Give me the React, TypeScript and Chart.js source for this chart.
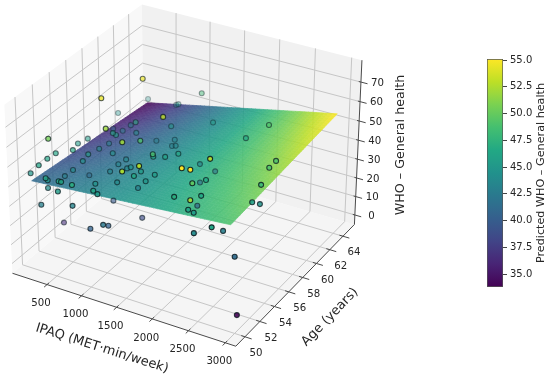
import React, { useEffect, useRef } from "react";
import { Chart, registerables } from "chart.js";
Chart.register(...registerables);

// ---------- data ----------
const ipaq = [844,672,245,735,669,106,1430,666,364,953,880,62,299,512,546,581,280,210,170,312,145,1226,1138,323,340,755,994,1083,997,427,598,1414,1253,1457,1356,746,130,127,15,381,701,874,973,1740,1611,1210,342,706,1291,1395,2410,2511,302,231,373,288,547,607,811,808,946,1332,2240,314,1165,1531,1596,1101,1362,2307,1988,2373,1646,2089,2799,2806,2847,358,749,594,1027,1037,793,269,1203,1100,948,1220,2004,2596,2227,2249,1801,2368,2223,2732,2768,2659,2555,2827,2937];
const age = [58.2,54.5,64.2,63.9,64.2,61.4,55.5,58.8,60.8,60.9,53.2,61.1,60.3,57.2,57.3,59.6,51.3,56.6,55.7,53.9,53.2,52.2,55.2,58.3,56.9,60.7,61.0,60.3,60.6,54.8,56.4,54.3,55.8,57.2,56.4,56.8,52.3,51.3,51.2,54.5,56.2,55.8,55.4,49.7,48.8,54.6,53.6,55.1,53.0,54.7,48.8,48.9,55.9,53.5,50.1,51.0,50.2,50.0,49.6,52.4,53.9,54.1,51.7,50.8,54.6,59.4,58.8,63.7,62.8,61.3,61.3,52.7,60.4,54.9,57.3,56.3,54.8,49.6,50.1,49.7,50.3,50.7,54.7,52.9,49.9,51.4,50.5,54.6,51.6,48.1,51.3,51.8,56.5,50.7,53.0,54.8,55.5,50.2,52.7,51.6,50.9];
const who = [73,73,38,41,39,38,68,47,36,41,64,30,34,45,44,38,59,41,41,45,44,64,54,34,36,32,34,34,32,41,38,53,45,44,44,35,44,44,39,38,34,35,38,66,65,41,36,34,45,41,75,75,25,32,44,39,44,45,47,38,35,39,56,36,32,32,25,51,41,54,44,66,26,45,54,54,51,32,34,41,44,41,21,10,30,23,23,17,47,64,44,41,23,36,45,41,38,44,32,26,0];

const surfaceIpaq = [180, 2930];
const surfaceAge = [50, 64.7];
// rows follow surfaceAge, columns follow surfaceIpaq
const surfaceRow0 = [41, 49];
const surfaceRow1 = [33.8, 55.1];

const xTicks = [500, 1000, 1500, 2000, 2500, 3000];
const yTicks = [50, 52, 54, 56, 58, 60, 62, 64];
const zTicks = [0, 10, 20, 30, 40, 50, 60, 70];
const colorbarTicks = [35, 37.5, 40, 42.5, 45, 47.5, 50, 52.5, 55];

const xLim = [-10, 3140];
const yLim = [48.79, 65.78];
const zLim = [-5.19, 81.06];
const colorLim = [33.8, 55.1];
const whoLim = [0, 75];

// ---------- matplotlib's 3D camera, elev 30, azim -60 ----------
const BX = 1.19, BY = 1.19, BZ = 0.893, SCALE = 2150, CX = 186.6, CY = 167.1;
function view(x: number, y: number, z: number) {
  const a = ((x - xLim[0]) / (xLim[1] - xLim[0]) - 0.5) * BX;
  const b = ((y - yLim[0]) / (yLim[1] - yLim[0]) - 0.5) * BY;
  const c = ((z - zLim[0]) / (zLim[1] - zLim[0]) - 0.5) * BZ;
  const U = 0.866 * a + 0.5 * b;
  const V = -0.25 * a + 0.433 * b + 0.866 * c;
  const W = 0.433 * a - 0.75 * b + 0.5 * c;
  const D = 10 - W;
  return { x: U / D, y: V / D, d: D };
}
const gap = { x: NaN, y: NaN };
function seg(out: any[], p: number[], q: number[]) {
  out.push(view(p[0], p[1], p[2]), view(q[0], q[1], q[2]), gap);
}

const VIRIDIS = ["#440154","#482475","#414487","#355f8d","#2a788e","#21918c","#22a884","#44bf70","#7ad151","#bddf26","#fde725"].map((h) => [parseInt(h.slice(1,3),16),parseInt(h.slice(3,5),16),parseInt(h.slice(5,7),16)]);
function viridis(t: number, alpha = 1) {
  const v = Math.min(1, Math.max(0, t)) * 10;
  const i = Math.min(9, Math.floor(v)), f = v - i;
  const c = [0,1,2].map((k) => Math.round(VIRIDIS[i][k] + (VIRIDIS[i + 1][k] - VIRIDIS[i][k]) * f));
  return `rgba(${c[0]},${c[1]},${c[2]},${alpha})`;
}

const FONT = "'DejaVu Sans'";
const TEXT = "#262626";

const gridPts: any[] = [];
for (const t of xTicks) { seg(gridPts, [t, yLim[0], zLim[0]], [t, yLim[1], zLim[0]]); seg(gridPts, [t, yLim[1], zLim[0]], [t, yLim[1], zLim[1]]); }
for (const t of yTicks) { seg(gridPts, [xLim[0], t, zLim[0]], [xLim[1], t, zLim[0]]); seg(gridPts, [xLim[0], t, zLim[0]], [xLim[0], t, zLim[1]]); }
for (const t of zTicks) { seg(gridPts, [xLim[0], yLim[0], t], [xLim[0], yLim[1], t]); seg(gridPts, [xLim[0], yLim[1], t], [xLim[1], yLim[1], t]); }

const axisPts: any[] = [];
seg(axisPts, [xLim[0], yLim[0], zLim[0]], [xLim[1], yLim[0], zLim[0]]);
seg(axisPts, [xLim[1], yLim[0], zLim[0]], [xLim[1], yLim[1], zLim[0]]);
seg(axisPts, [xLim[1], yLim[1], zLim[0]], [xLim[1], yLim[1], zLim[1]]);
for (const t of xTicks) seg(axisPts, [t, yLim[0] - 0.35, zLim[0]], [t, yLim[0] + 0.25, zLim[0]]);
for (const t of yTicks) seg(axisPts, [xLim[1] - 50, t, zLim[0]], [xLim[1] + 90, t, zLim[0]]);
for (const t of zTicks) seg(axisPts, [xLim[1] - 30, yLim[1], t], [xLim[1] + 90, yLim[1], t]);

const pts = ipaq.map((x, i) => ({ ...view(x, age[i], who[i]), v: who[i] })).sort((p, q) => q.d - p.d);
const dMax = pts[0].d, dMin = pts[pts.length - 1].d;
const shade = (d: number) => Math.min(1, 1.15 - 0.85 * (d - dMin) / (dMax - dMin));

function App3D(canvas: HTMLCanvasElement) {
  const sx = (c: Chart, v: number) => c.scales.x.getPixelForValue(v);
  const sy = (c: Chart, v: number) => c.scales.y.getPixelForValue(v);
  const poly = (c: Chart, corners: number[][], fill: string) => {
    const g = c.ctx; g.beginPath();
    corners.forEach((p, i) => { const v = view(p[0], p[1], p[2]); i ? g.lineTo(sx(c, v.x), sy(c, v.y)) : g.moveTo(sx(c, v.x), sy(c, v.y)); });
    g.closePath(); g.fillStyle = fill; g.fill();
  };
  const drawSurface = (c: Chart) => {
    const N = 48;
    const off = document.createElement("canvas"); off.width = c.width; off.height = c.height;
    const o = off.getContext("2d")!;
    const P = (s: number, t: number) => {
      const z = (1 - t) * ((1 - s) * surfaceRow0[0] + s * surfaceRow0[1]) + t * ((1 - s) * surfaceRow1[0] + s * surfaceRow1[1]);
      const x = surfaceIpaq[0] + s * (surfaceIpaq[1] - surfaceIpaq[0]);
      const y = surfaceAge[0] + t * (surfaceAge[1] - surfaceAge[0]);
      const v = view(x, y, z);
      return { px: sx(c, v.x), py: sy(c, v.y), z };
    };
    for (let i = 0; i < N; i++) for (let j = 0; j < N; j++) {
      const a = P(i / N, j / N), b = P((i + 1) / N, j / N), d = P((i + 1) / N, (j + 1) / N), e = P(i / N, (j + 1) / N);
      const col = viridis(((a.z + d.z) / 2 - colorLim[0]) / (colorLim[1] - colorLim[0]));
      o.beginPath(); o.moveTo(a.px, a.py); o.lineTo(b.px, b.py); o.lineTo(d.px, d.py); o.lineTo(e.px, e.py); o.closePath();
      o.fillStyle = col; o.strokeStyle = col; o.lineWidth = 0.7; o.fill(); o.stroke();
    }
    const g = c.ctx; g.save(); g.globalAlpha = 0.88; g.drawImage(off, 0, 0, c.width, c.height); g.restore();
  };
  const label = (g: CanvasRenderingContext2D, s: string, x: number, y: number, size: number, rot = 0) => {
    g.save(); g.translate(x, y); g.rotate(rot * Math.PI / 180);
    g.font = `${size}px ${FONT}`; g.fillStyle = TEXT; g.textAlign = "center"; g.textBaseline = "middle";
    g.fillText(s, 0, 0); g.restore();
  };
  return new Chart(canvas, {
    type: "scatter",
    data: { datasets: [
      { label: "pts", data: pts, order: 1, showLine: false, pointRadius: 2.5, pointBorderWidth: 1.1,
        pointBackgroundColor: pts.map((p) => viridis((p.v - whoLim[0]) / (whoLim[1] - whoLim[0]), shade(p.d))),
        pointBorderColor: pts.map((p) => `rgba(10,25,30,${shade(p.d) * 0.9})`) } as any,
      { label: "grid", data: gridPts, order: 3, showLine: true, pointRadius: 0, borderColor: "#c6c6c6", borderWidth: 1, spanGaps: false } as any,
      { label: "axes", data: axisPts, order: 2, showLine: true, pointRadius: 0, borderColor: "#4a4a4a", borderWidth: 1, spanGaps: false } as any,
    ] },
    options: {
      animation: false, responsive: false, clip: false as any,
      layout: { padding: 0, autoPadding: false },
      plugins: { legend: { display: false }, tooltip: { enabled: false } },
      scales: {
        x: { display: false, type: "linear", min: -CX / SCALE, max: (440 - CX) / SCALE },
        y: { display: false, type: "linear", min: (CY - 380) / SCALE, max: CY / SCALE },
      },
    },
    plugins: [{
      id: "box3d",
      beforeDatasetsDraw(c: Chart) {
        const [x0, x1] = xLim, [y0, y1] = yLim, [z0, z1] = zLim;
        poly(c, [[x0,y0,z0],[x1,y0,z0],[x1,y1,z0],[x0,y1,z0]], "#f5f5f5");
        poly(c, [[x0,y0,z0],[x0,y1,z0],[x0,y1,z1],[x0,y0,z1]], "#f8f8f8");
        poly(c, [[x0,y1,z0],[x1,y1,z0],[x1,y1,z1],[x0,y1,z1]], "#f1f1f1");
      },
      beforeDatasetDraw(c: Chart, args: any) {
        if (args.index === 0) drawSurface(c);
      },
      afterDatasetsDraw(c: Chart) {
        const g = c.ctx;
        for (const t of xTicks) { const v = view(t, yLim[0], zLim[0]); label(g, String(t), sx(c, v.x) - 6, sy(c, v.y) + 19, 10.2); }
        for (const t of yTicks) { const v = view(xLim[1], t, zLim[0]); label(g, String(t), sx(c, v.x) + 11, sy(c, v.y) + 16.5, 10.2); }
        for (const t of zTicks) { const v = view(xLim[1], yLim[1], t); label(g, String(t), sx(c, v.x) + 16.5, sy(c, v.y) + 1, 10.2); }
        label(g, "IPAQ (MET·min/week)", 102, 348.5, 13, 17.5);
        label(g, "Age (years)", 330, 317, 13, -46);
        label(g, "WHO – General health", 401, 145, 12.7, -90);
      },
    }],
  });
}

function AppBar(canvas: HTMLCanvasElement) {
  return new Chart(canvas, {
    type: "bar",
    data: { labels: ["Predicted WHO – General health"], datasets: [{
      data: [colorLim as any],
      barPercentage: 1, categoryPercentage: 1, borderWidth: 1, borderColor: "#555", borderSkipped: false,
      backgroundColor: (ctx: any) => {
        const ca = ctx.chart.chartArea; if (!ca) return "#000";
        const gr = ctx.chart.ctx.createLinearGradient(0, ca.bottom, 0, ca.top);
        for (let i = 0; i <= 20; i++) gr.addColorStop(i / 20, viridis(i / 20));
        return gr;
      },
    }] },
    options: {
      animation: false, responsive: false,
      layout: { padding: { left: 47, top: 59, bottom: 93, right: 0 }, autoPadding: false },
      plugins: { legend: { display: false }, tooltip: { enabled: false } },
      scales: {
        x: { display: false },
        y: {
          position: "right", min: colorLim[0], max: colorLim[1],
          afterBuildTicks: (s: any) => { s.ticks = colorbarTicks.map((value) => ({ value })); },
          afterFit: (s: any) => { s.width = 47; },
          grid: { drawOnChartArea: false, drawTicks: true, tickLength: 4, color: "#444" },
          border: { display: false },
          ticks: { padding: 3, color: TEXT, font: { family: "DejaVu Sans", size: 10 }, callback: (v: any) => Number(v).toFixed(1), autoSkip: false },
        },
      },
    },
    plugins: [{
      id: "cbTitle",
      afterDraw(c: Chart) {
        const g = c.ctx; g.save(); g.translate(101, 173); g.rotate(-Math.PI / 2);
        g.font = `11.2px ${FONT}`; g.fillStyle = TEXT; g.textAlign = "center"; g.textBaseline = "middle";
        g.fillText("Predicted WHO – General health", 0, 0); g.restore();
      },
    }],
  });
}

export default function App() {
  const main = useRef<HTMLCanvasElement>(null);
  const bar = useRef<HTMLCanvasElement>(null);
  useEffect(() => {
    const a = App3D(main.current!);
    const b = AppBar(bar.current!);
    return () => { a.destroy(); b.destroy(); };
  }, []);
  return (
    <div style={{ position: "absolute", left: 0, top: 0, width: 550, height: 380, overflow: "hidden", background: "#fff" }}>
      <canvas ref={main} width={440} height={380} style={{ position: "absolute", left: 0, top: 0 }} />
      <canvas ref={bar} width={110} height={380} style={{ position: "absolute", left: 440, top: 0 }} />
    </div>
  );
}
